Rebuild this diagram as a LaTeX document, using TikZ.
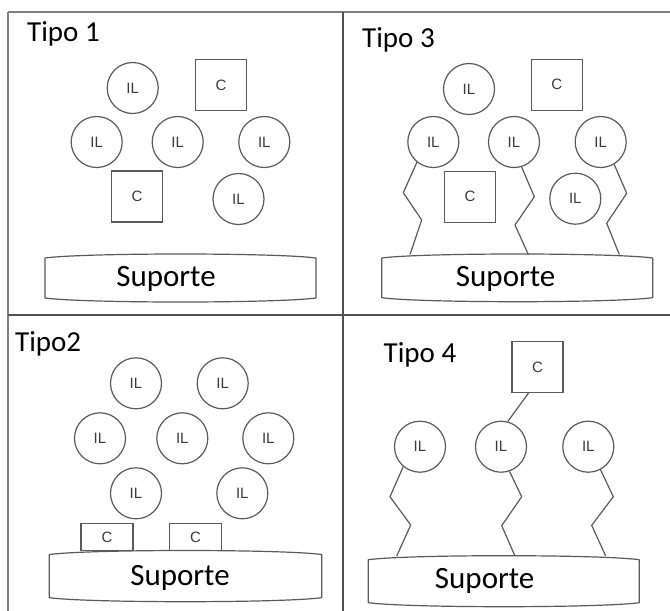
\documentclass[tikz,border=0pt]{standalone}
\usepackage{fontspec}
\setmainfont{Carlito}
\newfontfamily\lblfont{Liberation Sans}
\definecolor{shape}{HTML}{5A5A5A}
\definecolor{lbl}{HTML}{3A3A3A}
\definecolor{framec}{HTML}{505050}
\definecolor{framelt}{HTML}{808080}

% Support block: straight sides, top and bottom bulging outwards
% #1 left x, #2 top y (middle), #3 right x, #4 bottom y (middle)
\newcommand\suportebox[4]{%
  \pgfmathsetmacro\sxa{#1}\pgfmathsetmacro\sya{#2}%
  \pgfmathsetmacro\sxb{#3}\pgfmathsetmacro\syb{#4}%
  \pgfmathsetmacro\sw{(\sxb-\sxa)*0.15}%
  \draw[chain] (\sxa,\sya+4) .. controls (\sxa+\sw,\sya-1.33) and (\sxb-\sw,\sya-1.33) .. (\sxb,\sya+4)
    -- (\sxb,\syb-4) .. controls (\sxb-\sw,\syb+1.33) and (\sxa+\sw,\syb+1.33) .. (\sxa,\syb-4) -- cycle;}

\begin{document}
\begin{tikzpicture}[x=1pt,y=-1pt,
  il/.style={circle,draw=shape,line width=1.2pt,minimum size=51pt,inner sep=0pt,
    font=\lblfont\fontsize{15}{15}\selectfont,text=lbl},
  cbox/.style={rectangle,draw=shape,line width=1.2pt,minimum width=51pt,minimum height=51pt,
    inner sep=0pt,font=\lblfont\fontsize{15}{15}\selectfont,text=lbl},
  flatbox/.style={cbox,minimum width=52pt,minimum height=27pt},
  tipo/.style={anchor=base west,inner sep=0pt,font=\fontsize{29}{29}\selectfont},
  sup/.style={anchor=base,inner sep=0pt,font=\fontsize{31}{31}\selectfont},
  chain/.style={draw=shape,line width=1.2pt,line join=round},
  heavy/.style={draw=framec,line width=2.2pt},
  light/.style={draw=framelt,line width=1.5pt}]

\useasboundingbox (0,0) rectangle (670,611);

% panel frame
\draw[light] (8,12) -- (670,12);
\draw[light] (8,12) -- (8,611);
\draw[heavy] (343,12) -- (343,611);
\draw[heavy] (8,315) -- (670,315);

% ---- Tipo 1: free ionic liquid and catalyst ----
\node[tipo] (t1) at (27,41) {Tipo 1};
\node[il] (il11) at (132.7,88) {IL};
\node[cbox] (c11) at (221,85) {C};
\node[il] (il12) at (96.7,142) {IL};
\node[il] (il13) at (177.7,142) {IL};
\node[il] (il14) at (264.3,142) {IL};
\node[cbox] (c12) at (137,196.5) {C};
\node[il] (il15) at (238.5,199) {IL};
\suportebox{45}{254}{316}{302}
\node[sup] (s1) at (166,286) {Suporte};

% ---- Tipo 3: ionic liquid grafted on the support ----
\node[tipo] (t3) at (362,47) {Tipo 3};
\node[il] (il31) at (469,89) {IL};
\node[cbox] (c31) at (556.7,84.7) {C};
\node[il] (il32) at (433.3,142) {IL};
\node[il] (il33) at (514,142) {IL};
\node[il] (il34) at (600.7,142) {IL};
\node[cbox] (c32) at (470,196.7) {C};
\node[il] (il35) at (575.3,198.7) {IL};
\suportebox{381.7}{254}{652.7}{301.7}
\node[sup] (s3) at (505.7,286) {Suporte};
\coordinate (e31) at (410,254.5);
\coordinate (e32) at (528.3,254.5);
\coordinate (e33) at (619.3,254.5);
\draw[chain] (il32.231) -- (403.3,192.7) -- (421.7,220) -- (e31);
\draw[chain] (il33.287) -- (534.3,196.7) -- (515,225) -- (e32);
\draw[chain] (il34.301) -- (626.7,193.3) -- (606.7,223.3) -- (e33);

% ---- Tipo2: catalyst fixed on the support ----
\node[tipo] (t2) at (15,351) {Tipo2};
\node[il] (il21) at (136,383.3) {IL};
\node[il] (il22) at (222.7,383.3) {IL};
\node[il] (il23) at (100,438.3) {IL};
\node[il] (il24) at (182.3,438.3) {IL};
\node[il] (il25) at (268.3,438.3) {IL};
\node[il] (il26) at (136,493.3) {IL};
\node[il] (il27) at (242.3,493.3) {IL};
\node[flatbox] (c21) at (107,537) {C};
\node[flatbox] (c22) at (195.5,537) {C};
\suportebox{49.3}{550.5}{321.7}{601.7}
\node[sup] (s2) at (180,585) {Suporte};

% ---- Tipo 4: catalyst bound to grafted ionic liquid ----
\node[tipo] (t4) at (383.5,362) {Tipo 4};
\node[cbox] (c41) at (537.5,367) {C};
\node[il] (il41) at (420,446.7) {IL};
\node[il] (il42) at (501,446.7) {IL};
\node[il] (il43) at (588.3,446.7) {IL};
\draw[chain] ([xshift=-9pt]c41.south) -- (il42.75);
\suportebox{368.3}{555.7}{639.3}{606.7}
\node[sup] (s4) at (484.7,588) {Suporte};
\coordinate (e41) at (396.7,556);
\coordinate (e42) at (515,556);
\coordinate (e43) at (605.7,556);
\draw[chain] (il41.230) -- (390,496.7) -- (410.7,525) -- (e41);
\draw[chain] (il42.289) -- (521.7,496.7) -- (501.7,525.7) -- (e42);
\draw[chain] (il43.298) -- (613.3,496.7) -- (591.7,525.3) -- (e43);
\end{tikzpicture}
\end{document}
